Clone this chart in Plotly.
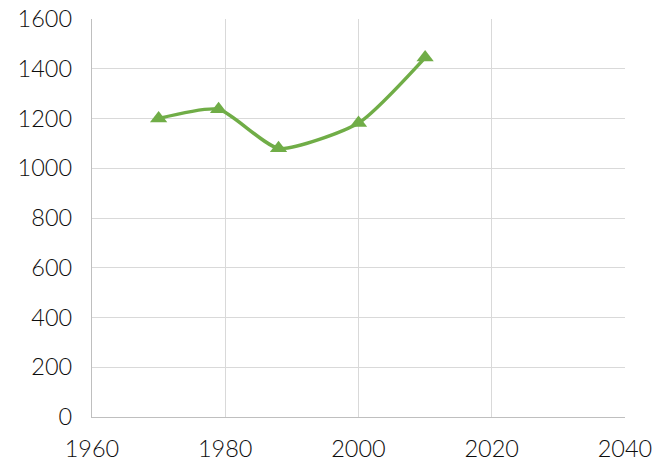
import plotly.graph_objects as go

years = [1970, 1979, 1988, 2000, 2010]
values = [1200, 1237, 1080, 1182, 1445]
x_ticks = [1960, 1980, 2000, 2020, 2040]
y_ticks = [0, 200, 400, 600, 800, 1000, 1200, 1400, 1600]

fig = go.Figure()
fig.add_trace(go.Scatter(
    x=years, y=values, mode="lines+markers",
    line=dict(color="#70AD47", width=3.5, shape="spline", smoothing=0.6),
    marker=dict(symbol="triangle-up", size=15, color="#70AD47"),
    showlegend=False,
))

font = dict(family="Lato, 'DejaVu Sans', sans-serif", size=23.5, color="#0d0d0d", weight=300)
fig.update_layout(
    width=660, height=464,
    margin=dict(l=92, r=35, t=19, b=47),
    paper_bgcolor="white", plot_bgcolor="white",
    font=font,
    xaxis=dict(range=[1960, 2040], tickvals=x_ticks, showgrid=True,
               gridcolor="#d9d9d9", gridwidth=1.3, zeroline=False,
               showline=True, linecolor="#bfbfbf", linewidth=1.3,
               ticks="", ticklabelstandoff=11, tickfont=font, automargin=False),
    yaxis=dict(range=[0, 1600], tickvals=y_ticks, showgrid=True,
               gridcolor="#d9d9d9", gridwidth=1.3, zeroline=False,
               showline=True, linecolor="#bfbfbf", linewidth=1.3,
               ticks="", ticklabelstandoff=14, tickfont=font, automargin=False),
)
fig.write_html("out.html", config={"displayModeBar": False},
               post_script="document.body.style.margin='0';document.body.style.overflow='hidden';")
